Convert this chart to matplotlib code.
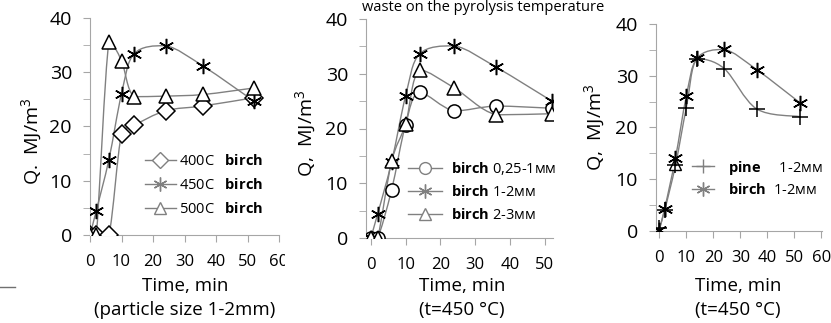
import numpy as np
import matplotlib
matplotlib.use("Agg")
import matplotlib.pyplot as plt
from matplotlib.path import Path
from matplotlib.patches import PathPatch
from matplotlib.transforms import Bbox, TransformedBbox

plt.rcParams["font.family"] = ["Open Sans", "DejaVu Sans"]
plt.rcParams["mathtext.fontset"] = "custom"
plt.rcParams["mathtext.rm"] = "Open Sans"
plt.rcParams["mathtext.bf"] = "Open Sans:bold"

# time points, min
t = [0, 2, 6, 10, 14, 24, 36, 52]

# panel 1: temperature, birch 1-2mm
q_400 = [0, 0, 0, 18.6, 20.2, 22.9, 23.8, 25.3]
q_450 = [0, 4.5, 13.9, 26.0, 33.4, 34.9, 31.1, 24.7]
q_500 = [0, 0, 35.6, 32.1, 25.5, 25.6, 25.9, 27.1]

# panel 2: particle size, 450 C
q_small = [0, 0, 8.8, 20.7, 26.6, 23.2, 24.1, 23.7]
q_mid = [0, 4.4, 13.9, 25.9, 33.6, 35.1, 31.2, 25.0]
q_big = [0, 0, 14.0, 20.8, 30.7, 27.4, 22.5, 22.7]

# panel 3: pine vs birch, 450 C
q_pine = [0.5, 4.0, 12.7, 23.8, 33.3, 31.4, 23.6, 22.1]
q_birch = [0.2, 4.3, 14.1, 26.0, 33.4, 35.1, 31.2, 24.8]
# stray triangle left over in the source figure
t_stray = [6]
q_stray = [12.9]

LINE = "#808080"
AX = "#a6a6a6"
STAR = (6, 2, 0)


def smooth(ax, x, y, color=LINE):
    # Excel-like smoothed line, control points kept inside each segment's range
    x = np.asarray(x, float)
    y = np.asarray(y, float)
    verts = [(x[0], y[0])]
    codes = [Path.MOVETO]
    n = len(x)
    for i in range(n - 1):
        a, b = max(i - 1, 0), min(i + 2, n - 1)
        lo, hi = min(y[i], y[i + 1]), max(y[i], y[i + 1])
        c1 = (x[i] + (x[i + 1] - x[a]) / 6, np.clip(y[i] + (y[i + 1] - y[a]) / 6, lo, hi))
        c2 = (x[i + 1] - (x[b] - x[i]) / 6, np.clip(y[i + 1] - (y[b] - y[i]) / 6, lo, hi))
        verts += [c1, c2, (x[i + 1], y[i + 1])]
        codes += [Path.CURVE4] * 3
    ax.add_patch(PathPatch(Path(verts, codes), fill=False, edgecolor=color, lw=1.0))


def series(ax, x, y, marker, ms, label):
    smooth(ax, x, y)
    ax.plot(x, y, ls="none", marker=marker, ms=ms, mfc="white", mec="black",
            mew=1.1, zorder=3)
    return plt.Line2D([], [], color=LINE, lw=1.0, marker=marker, ms=ms - 1,
                      mfc="white", mec=LINE, mew=1.0, label=label)


def style(ax, xlim, xticks, ylabel, lx, ly):
    ax.set_xlim(xlim)
    ax.set_ylim(0, 40)
    ax.set_xticks(xticks)
    ax.set_yticks([0, 10, 20, 30, 40])
    ax.set_yticks([5, 15, 25, 35], minor=True)
    for s in ["top", "right"]:
        ax.spines[s].set_visible(False)
    for s in ["left", "bottom"]:
        ax.spines[s].set_color(AX)
    ax.tick_params(which="both", color=AX, direction="out", length=5)
    ax.tick_params(axis="x", pad=9, labelsize=12)
    ax.tick_params(axis="y", pad=8, labelsize=14)
    ax.set_ylabel(ylabel, fontsize=14)
    ax.yaxis.set_label_coords(lx, ly)
    ax.patch.set_alpha(0)


def legend(ax, handles, x, y, hl, pad, spacing):
    ax.legend(handles=handles, frameon=False, fontsize=10.5, handlelength=hl,
              handletextpad=pad, labelspacing=spacing, loc="upper left",
              bbox_to_anchor=(x, y), borderaxespad=0, borderpad=0)


W, H = 831, 323
fig = plt.figure(figsize=(W / 100, H / 100), dpi=100)


def axes_px(l, r, top, bot):
    return fig.add_axes([l / W, 1 - bot / H, (r - l) / W, (bot - top) / H])


# ---- panel 1 ----
ax1 = axes_px(90, 279, 18, 235)
h = [series(ax1, t, q_400, "D", 9, "400C   $\\mathbf{birch}$"),
     series(ax1, t, q_450, STAR, 11, "450C   $\\mathbf{birch}$"),
     series(ax1, t, q_500, "^", 10, "500C   $\\mathbf{birch}$")]
style(ax1, (0, 60), [0, 10, 20, 30, 40, 50, 60], "Q.  MJ/m$^3$", -0.24, 0.43)
legend(ax1, h, 0.291, 0.375, 2.1, 0.2, 0.62)

# ---- panel 2 ----
ax2 = axes_px(366, 553, 19, 238)
h = [series(ax2, t, q_small, "o", 9.5, "$\\mathbf{birch}$ 0,25-1мм"),
     series(ax2, t, q_mid, STAR, 11, "$\\mathbf{birch}$ 1-2мм"),
     series(ax2, t, q_big, "^", 10, "$\\mathbf{birch}$ 2-3мм")]
style(ax2, (-1.35, 52.3), [0, 10, 20, 30, 40, 50], "Q,  MJ/m$^3$", -0.25, 0.48)
legend(ax2, h, 0.225, 0.355, 2.3, 0.65, 0.55)

# ---- panel 3 ----
ax3 = axes_px(656, 822, 24, 231)
ax3.plot(t_stray, q_stray, ls="none", marker="^", ms=8, mfc="white", mec="black", mew=1.0)
h = [series(ax3, t, q_pine, "+", 11, "$\\mathbf{pine}$     1-2мм"),
     series(ax3, t, q_birch, STAR, 11, "$\\mathbf{birch}$  1-2мм")]
style(ax3, (-1.2, 60.2), [0, 10, 20, 30, 40, 50, 60], "Q,  MJ/m$^3$", -0.29, 0.5)
legend(ax3, h, 0.217, 0.35, 1.5, 1.0, 0.45)

# axis captions under each panel
for cx, sub in [(185, "(particle size 1-2mm)"), (462, "(t=450 °C)"), (738, "(t=450 °C)")]:
    fig.text(cx / W, 1 - 286 / H, "Time, min", ha="center", va="center", fontsize=13.5)
    fig.text(cx / W, 1 - 310 / H, sub, ha="center", va="center", fontsize=13.5)

# title (cut off in the source), kept fully visible
fig.text(483 / W, 1.0, "waste on the pyrolysis temperature",
         ha="center", va="top", fontsize=10.5)
fig.add_artist(plt.Line2D([0, 15 / W], [1 - 287 / H, 1 - 287 / H], color="#707070", lw=1.0))

# the last tick label of panel 1 is partly hidden by panel 2 in the source
fig.canvas.draw()
lab = ax1.get_xticklabels()[-1]
lab.set_clip_box(TransformedBbox(Bbox([[0, 0], [285 / W, 1]]), fig.transFigure))
lab.set_clip_on(True)

fig.savefig("out.png", dpi=100)
